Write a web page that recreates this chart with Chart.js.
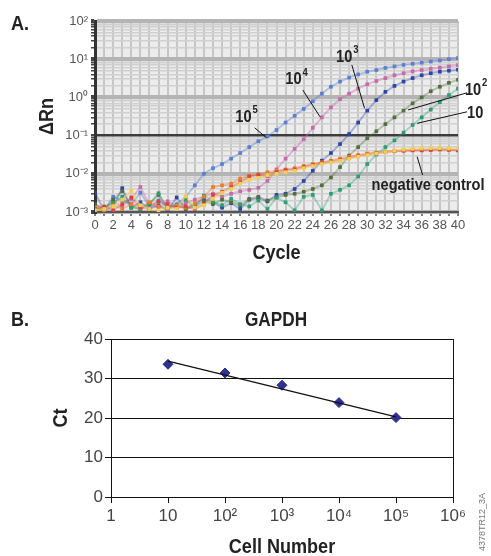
<!DOCTYPE html>
<html>
<head>
<meta charset="utf-8">
<script src="https://cdn.jsdelivr.net/npm/chart.js@4.4.0/dist/chart.umd.min.js"></script>
<style>
  html, body { margin: 0; padding: 0; background: #fff; }
  body { width: 491px; height: 556px; position: relative; overflow: hidden; }
  #chart-a { position: absolute; left: 0; top: 0; }
  #chart-b { position: absolute; left: 0; top: 270px; }
</style>
</head>
<body>
<canvas id="chart-a" width="491" height="270"></canvas>
<canvas id="chart-b" width="491" height="286"></canvas>
<script>
// ---- panel A data: delta Rn per cycle ----
const cycles = Array.from({ length: 41 }, (_, i) => i);

const rn1e5 = [0.0013, 0.0011, 0.0025, 0.002, 0.0016, 0.0032, 0.0014, 0.002, 0.0013, 0.0016, 0.0025, 0.005,
    0.01, 0.014, 0.018, 0.025, 0.035, 0.05, 0.071, 0.095, 0.14, 0.22, 0.33, 0.5, 0.79, 1.26, 1.9, 2.6, 3.3,
    4.0, 4.7, 5.2, 5.9, 6.5, 7.1, 7.6, 8.1, 8.7, 9.3, 10, 10.7];
const rn1e4 = [0.0015, 0.0012, 0.0018, 0.0014, 0.0022, 0.0045, 0.0016, 0.0013, 0.0019, 0.0014, 0.0017, 0.0021,
    0.0026, 0.003, 0.0025, 0.003, 0.0035, 0.0038, 0.0043, 0.0065, 0.013, 0.025, 0.045, 0.08, 0.16, 0.3, 0.55,
    0.9, 1.25, 1.7, 2.2, 2.7, 3.2, 3.8, 4.3, 4.8, 5.2, 5.6, 6.0, 6.5, 7.0];
const rn1e3 = [0.0032, 0.0011, 0.0014, 0.0042, 0.0013, 0.0018, 0.0012, 0.0015, 0.0011, 0.0024, 0.0012, 0.0016,
    0.0022, 0.0018, 0.0013, 0.0017, 0.0012, 0.0021, 0.0023, 0.0019, 0.0028, 0.003, 0.004, 0.0065, 0.012, 0.022,
    0.035, 0.06, 0.11, 0.22, 0.45, 0.85, 1.4, 2.0, 2.6, 3.2, 3.8, 4.3, 4.7, 5.0, 5.3];
const rn1e2 = [0.0016, 0.0012, 0.0021, 0.0035, 0.0014, 0.0012, 0.0017, 0.0028, 0.0013, 0.0015, 0.0012, 0.0014,
    0.0019, 0.0016, 0.0021, 0.0018, 0.0015, 0.0022, 0.0025, 0.002, 0.0024, 0.0028, 0.003, 0.0034, 0.004, 0.005,
    0.008, 0.015, 0.03, 0.05, 0.085, 0.13, 0.2, 0.3, 0.45, 0.7, 1.0, 1.45, 1.9, 2.4, 2.9];
const rn1e1 = [0.0011, 0.0013, 0.0017, 0.0025, 0.0013, 0.0012, 0.0016, 0.0031, 0.0012, 0.0014, 0.0021, 0.0013,
    0.0027, 0.0019, 0.0015, 0.0022, 0.0016, 0.0014, 0.002, 0.0012, 0.0024, 0.0018, 0.0011, 0.0025, 0.0028,
    0.0011, 0.003, 0.0038, 0.005, 0.0085, 0.018, 0.032, 0.05, 0.075, 0.12, 0.19, 0.3, 0.48, 0.75, 1.15, 1.7];
const rnNegA = [0.0013, 0.0011, 0.0015, 0.0012, 0.0016, 0.0013, 0.0018, 0.0014, 0.0012, 0.0015, 0.0013, 0.0017,
    0.0025, 0.0045, 0.005, 0.0055, 0.0075, 0.009, 0.0095, 0.011, 0.012, 0.013, 0.014, 0.016, 0.018, 0.02,
    0.022, 0.025, 0.028, 0.031, 0.034, 0.036, 0.038, 0.04, 0.041, 0.042, 0.042, 0.043, 0.043, 0.042, 0.042];
const rnNegB = [0.0012, 0.0014, 0.0011, 0.0016, 0.0024, 0.0013, 0.0012, 0.0019, 0.0016, 0.0013, 0.0014, 0.0012,
    0.0016, 0.0028, 0.0034, 0.0045, 0.006, 0.0085, 0.0095, 0.0088, 0.011, 0.0125, 0.013, 0.015, 0.017, 0.019,
    0.021, 0.023, 0.026, 0.029, 0.032, 0.035, 0.037, 0.039, 0.04, 0.041, 0.041, 0.042, 0.044, 0.043, 0.041];
const rnNegC = [0.0011, 0.0012, 0.0014, 0.0021, 0.0036, 0.0015, 0.0012, 0.0011, 0.0013, 0.0012, 0.0026, 0.0013,
    0.0015, 0.0022, 0.0032, 0.004, 0.0055, 0.007, 0.0078, 0.0092, 0.01, 0.011, 0.012, 0.014, 0.016, 0.018,
    0.02, 0.022, 0.025, 0.028, 0.031, 0.034, 0.037, 0.04, 0.043, 0.045, 0.046, 0.047, 0.047, 0.046, 0.046];

const yDecades = [0.001, 0.01, 0.1, 1, 10, 100];
const yDecadeLabels = ['10⁻³', '10⁻²', '10⁻¹', '10⁰', '10¹', '10²'];

// curve labels: text, exponent, text centre, leader line start/end (data units)
const curveLabels = [
    { text: '10', sup: '5', at: [16.7, 0.31], from: [17.6, 0.16], to: [18.9, 0.087] },
    { text: '10', sup: '4', at: [22.2, 2.9], from: [22.9, 1.55], to: [24.8, 0.31] },
    { text: '10', sup: '3', at: [27.8, 11.5], from: [28.3, 7.1], to: [29.7, 0.52] },
    { text: '10', sup: '2', at: [42.0, 1.55], from: [41.0, 1.32], to: [34.5, 0.47] },
    { text: '10', sup: '', at: [41.9, 0.39], from: [41.0, 0.42], to: [35.5, 0.21] },
    { text: 'negative control', sup: '', at: [36.7, 0.0051], from: [35.5, 0.028], to: [36.1, 0.0093] }
];

// ---- panel B data: GAPDH standard curve ----
const cellNumbers = [10, 100, 1000, 10000, 100000];
const ctValues = [33.6, 31.4, 28.3, 23.9, 20.1];
const trendX = [10, 100000];
const trendY = [34.4, 20.3];
const cellTicks = [1, 10, 100, 1000, 10000, 100000, 1000000];
const cellTickLabels = ['1', '10', '10²', '10³', '10⁴', '10⁵', '10⁶'];

const boldFamily = "'Liberation Sans', Arial, sans-serif";
const plain = "'Liberation Sans', Arial, sans-serif";
const narrow = 0.86;   // squeeze bold text to look like a condensed face
Chart.defaults.font.family = plain;

function toPoints(xs, ys) {
    return ys.map((y, i) => ({ x: xs[i], y: y }));
}

// bold condensed text, centred on x,y, optionally rotated
function drawBold(ctx, text, x, y, size, angle) {
    ctx.save();
    ctx.translate(x, y);
    if (angle) ctx.rotate(angle);
    ctx.scale(narrow, 1);
    ctx.font = `bold ${size}px ${boldFamily}`;
    ctx.textAlign = 'center';
    ctx.textBaseline = 'middle';
    ctx.fillStyle = '#222';
    ctx.fillText(text, 0, 0);
    ctx.restore();
}

function drawPower(ctx, base, sup, x, y, size) {
    const supSize = Math.round(size * 0.62);
    ctx.save();
    ctx.font = `bold ${size}px ${boldFamily}`;
    const w1 = ctx.measureText(base).width;
    ctx.font = `bold ${supSize}px ${boldFamily}`;
    const w2 = sup ? ctx.measureText(sup).width + 1 : 0;
    ctx.translate(x, y);
    ctx.scale(narrow, 1);
    const left = -(w1 + w2) / 2;
    ctx.textAlign = 'left';
    ctx.textBaseline = 'middle';
    ctx.fillStyle = '#222';
    ctx.font = `bold ${size}px ${boldFamily}`;
    ctx.fillText(base, left, 0);
    if (sup) {
        ctx.font = `bold ${supSize}px ${boldFamily}`;
        ctx.fillText(sup, left + w1 + 1, -size * 0.4);
    }
    ctx.restore();
}

// ---- panel A ----
const ampSeries = [rnNegC, rnNegB, rnNegA, rn1e1, rn1e2, rn1e3, rn1e4, rn1e5];
const ampColors = ['#f0cf55', '#d9443c', '#ee7b2b', '#2e9d74', '#52703c', '#2c45a6', '#c66aaa', '#5b80d2'];
const ampLines = ['rgba(240,207,85,0.45)', 'rgba(217,68,60,0.35)', 'rgba(238,123,43,0.4)', 'rgba(46,157,116,0.35)',
    'rgba(82,112,60,0.35)', 'rgba(44,69,166,0.35)', 'rgba(198,106,170,0.4)', 'rgba(91,128,210,0.4)'];

const minorTicks = [];
yDecades.slice(0, -1).forEach(d => {
    for (let m = 1; m <= 9; m++) minorTicks.push(m * d);
});
minorTicks.push(yDecades[yDecades.length - 1]);

const ampDecor = {
    id: 'ampDecor',
    beforeDraw(chart) {
        const { ctx, chartArea: a } = chart;
        ctx.save();
        ctx.fillStyle = '#ececec';
        ctx.fillRect(a.left, a.top, a.right - a.left, a.bottom - a.top);
        ctx.restore();
    },
    afterDraw(chart) {
        const { ctx, scales, chartArea: a } = chart;
        drawBold(ctx, 'A.', 20, 24, 21);
        drawBold(ctx, 'Cycle', (a.left + a.right) / 2, 253, 21);
        drawBold(ctx, 'ΔRn', 47, (a.top + a.bottom) / 2, 21, -Math.PI / 2);
        ctx.save();
        curveLabels.forEach(l => {
            ctx.strokeStyle = '#111';
            ctx.lineWidth = 1;
            ctx.beginPath();
            ctx.moveTo(scales.x.getPixelForValue(l.from[0]), scales.y.getPixelForValue(l.from[1]));
            ctx.lineTo(scales.x.getPixelForValue(l.to[0]), scales.y.getPixelForValue(l.to[1]));
            ctx.stroke();
            drawPower(ctx, l.text, l.sup, scales.x.getPixelForValue(l.at[0]), scales.y.getPixelForValue(l.at[1]), 17);
        });
        ctx.restore();
    }
};

new Chart(document.getElementById('chart-a'), {
    type: 'line',
    data: {
        datasets: ampSeries.map((vals, i) => ({
            data: toPoints(cycles, vals),
            borderColor: ampLines[i],
            borderWidth: 2,
            backgroundColor: ampColors[i],
            pointBackgroundColor: ampColors[i],
            pointBorderWidth: 0,
            pointStyle: 'rect',
            pointRadius: 2.6,
            tension: 0
        }))
    },
    options: {
        responsive: false,
        animation: false,
        layout: { padding: { left: 0, right: 33, top: 21, bottom: 0 } },
        plugins: { legend: { display: false }, tooltip: { enabled: false } },
        scales: {
            x: {
                type: 'linear',
                min: 0,
                max: 40,
                afterFit: s => { s.height = 58; },
                ticks: {
                    stepSize: 1,
                    autoSkip: false,
                    maxRotation: 0,
                    padding: 2,
                    color: '#555',
                    font: { size: 13 },
                    callback: v => (v % 2 === 0 ? String(v) : '')
                },
                grid: { color: '#c6c6c6', lineWidth: 2, tickLength: 4, tickColor: '#555', tickWidth: 1.5 },
                border: { color: '#555', width: 2 }
            },
            y: {
                type: 'logarithmic',
                min: yDecades[0],
                max: yDecades[yDecades.length - 1],
                afterFit: s => { s.width = 95; },
                afterBuildTicks: s => { s.ticks = minorTicks.map(v => ({ value: v })); },
                ticks: {
                    autoSkip: false,
                    padding: 3,
                    color: '#555',
                    font: { size: 13 },
                    callback: (v, i) => (i % 9 === 0 ? yDecadeLabels[i / 9] : '')
                },
                grid: {
                    color: c => (c.index === 18 ? '#3c3c3c' : c.index % 9 === 0 ? '#b4b4b4' : '#d0d0d0'),
                    lineWidth: c => (c.index === 18 ? 2.5 : c.index % 9 === 0 ? 4 : 1.5),
                    tickLength: 4,
                    tickColor: '#444'
                },
                border: { color: '#333', width: 3 }
            }
        }
    },
    plugins: [ampDecor]
});

// ---- panel B ----
const stdDecor = {
    id: 'stdDecor',
    afterDraw(chart) {
        const { ctx, chartArea: a } = chart;
        ctx.save();
        ctx.strokeStyle = '#111';
        ctx.lineWidth = 1;
        ctx.beginPath();
        ctx.moveTo(a.right + 0.5, a.top);
        ctx.lineTo(a.right + 0.5, a.bottom);
        ctx.stroke();
        ctx.translate(483, 252);
        ctx.rotate(-Math.PI / 2);
        ctx.fillStyle = '#777';
        ctx.textAlign = 'center';
        ctx.textBaseline = 'middle';
        ctx.font = `9px ${plain}`;
        ctx.fillText('4378TR12_3A', 0, 0);
        ctx.restore();
        drawBold(ctx, 'B.', 20, 50, 21);
        drawBold(ctx, 'GAPDH', 276, 50, 20);
        drawBold(ctx, 'Cell Number', (a.left + a.right) / 2, 277, 21);
        drawBold(ctx, 'Ct', 61, (a.top + a.bottom) / 2, 21, -Math.PI / 2);
    }
};

new Chart(document.getElementById('chart-b'), {
    type: 'scatter',
    data: {
        datasets: [
            {
                type: 'line',
                data: toPoints(trendX, trendY),
                borderColor: '#111',
                borderWidth: 1.2,
                pointRadius: 0
            },
            {
                data: toPoints(cellNumbers, ctValues),
                pointStyle: 'rectRot',
                pointRadius: 5,
                backgroundColor: '#2e3192',
                borderColor: '#2e3192'
            }
        ]
    },
    options: {
        responsive: false,
        animation: false,
        layout: { padding: { left: 0, right: 38, top: 69, bottom: 0 } },
        plugins: { legend: { display: false }, tooltip: { enabled: false } },
        scales: {
            x: {
                type: 'logarithmic',
                min: cellTicks[0],
                max: cellTicks[cellTicks.length - 1],
                afterFit: s => { s.height = 59; },
                afterBuildTicks: s => { s.ticks = cellTicks.map(v => ({ value: v })); },
                ticks: {
                    autoSkip: false,
                    maxRotation: 0,
                    padding: 3,
                    color: '#444',
                    font: { size: 17 },
                    callback: (v, i) => cellTickLabels[i]
                },
                grid: { drawOnChartArea: false, tickLength: 6, tickColor: '#111' },
                border: { color: '#111', width: 1 }
            },
            y: {
                min: 0,
                max: 40,
                afterFit: s => { s.width = 111; },
                ticks: { stepSize: 10, padding: 2, color: '#444', font: { size: 17 } },
                grid: { color: '#111', lineWidth: 1, tickLength: 6, tickColor: '#111' },
                border: { color: '#111', width: 1 }
            }
        }
    },
    plugins: [stdDecor]
});
</script>
</body>
</html>
